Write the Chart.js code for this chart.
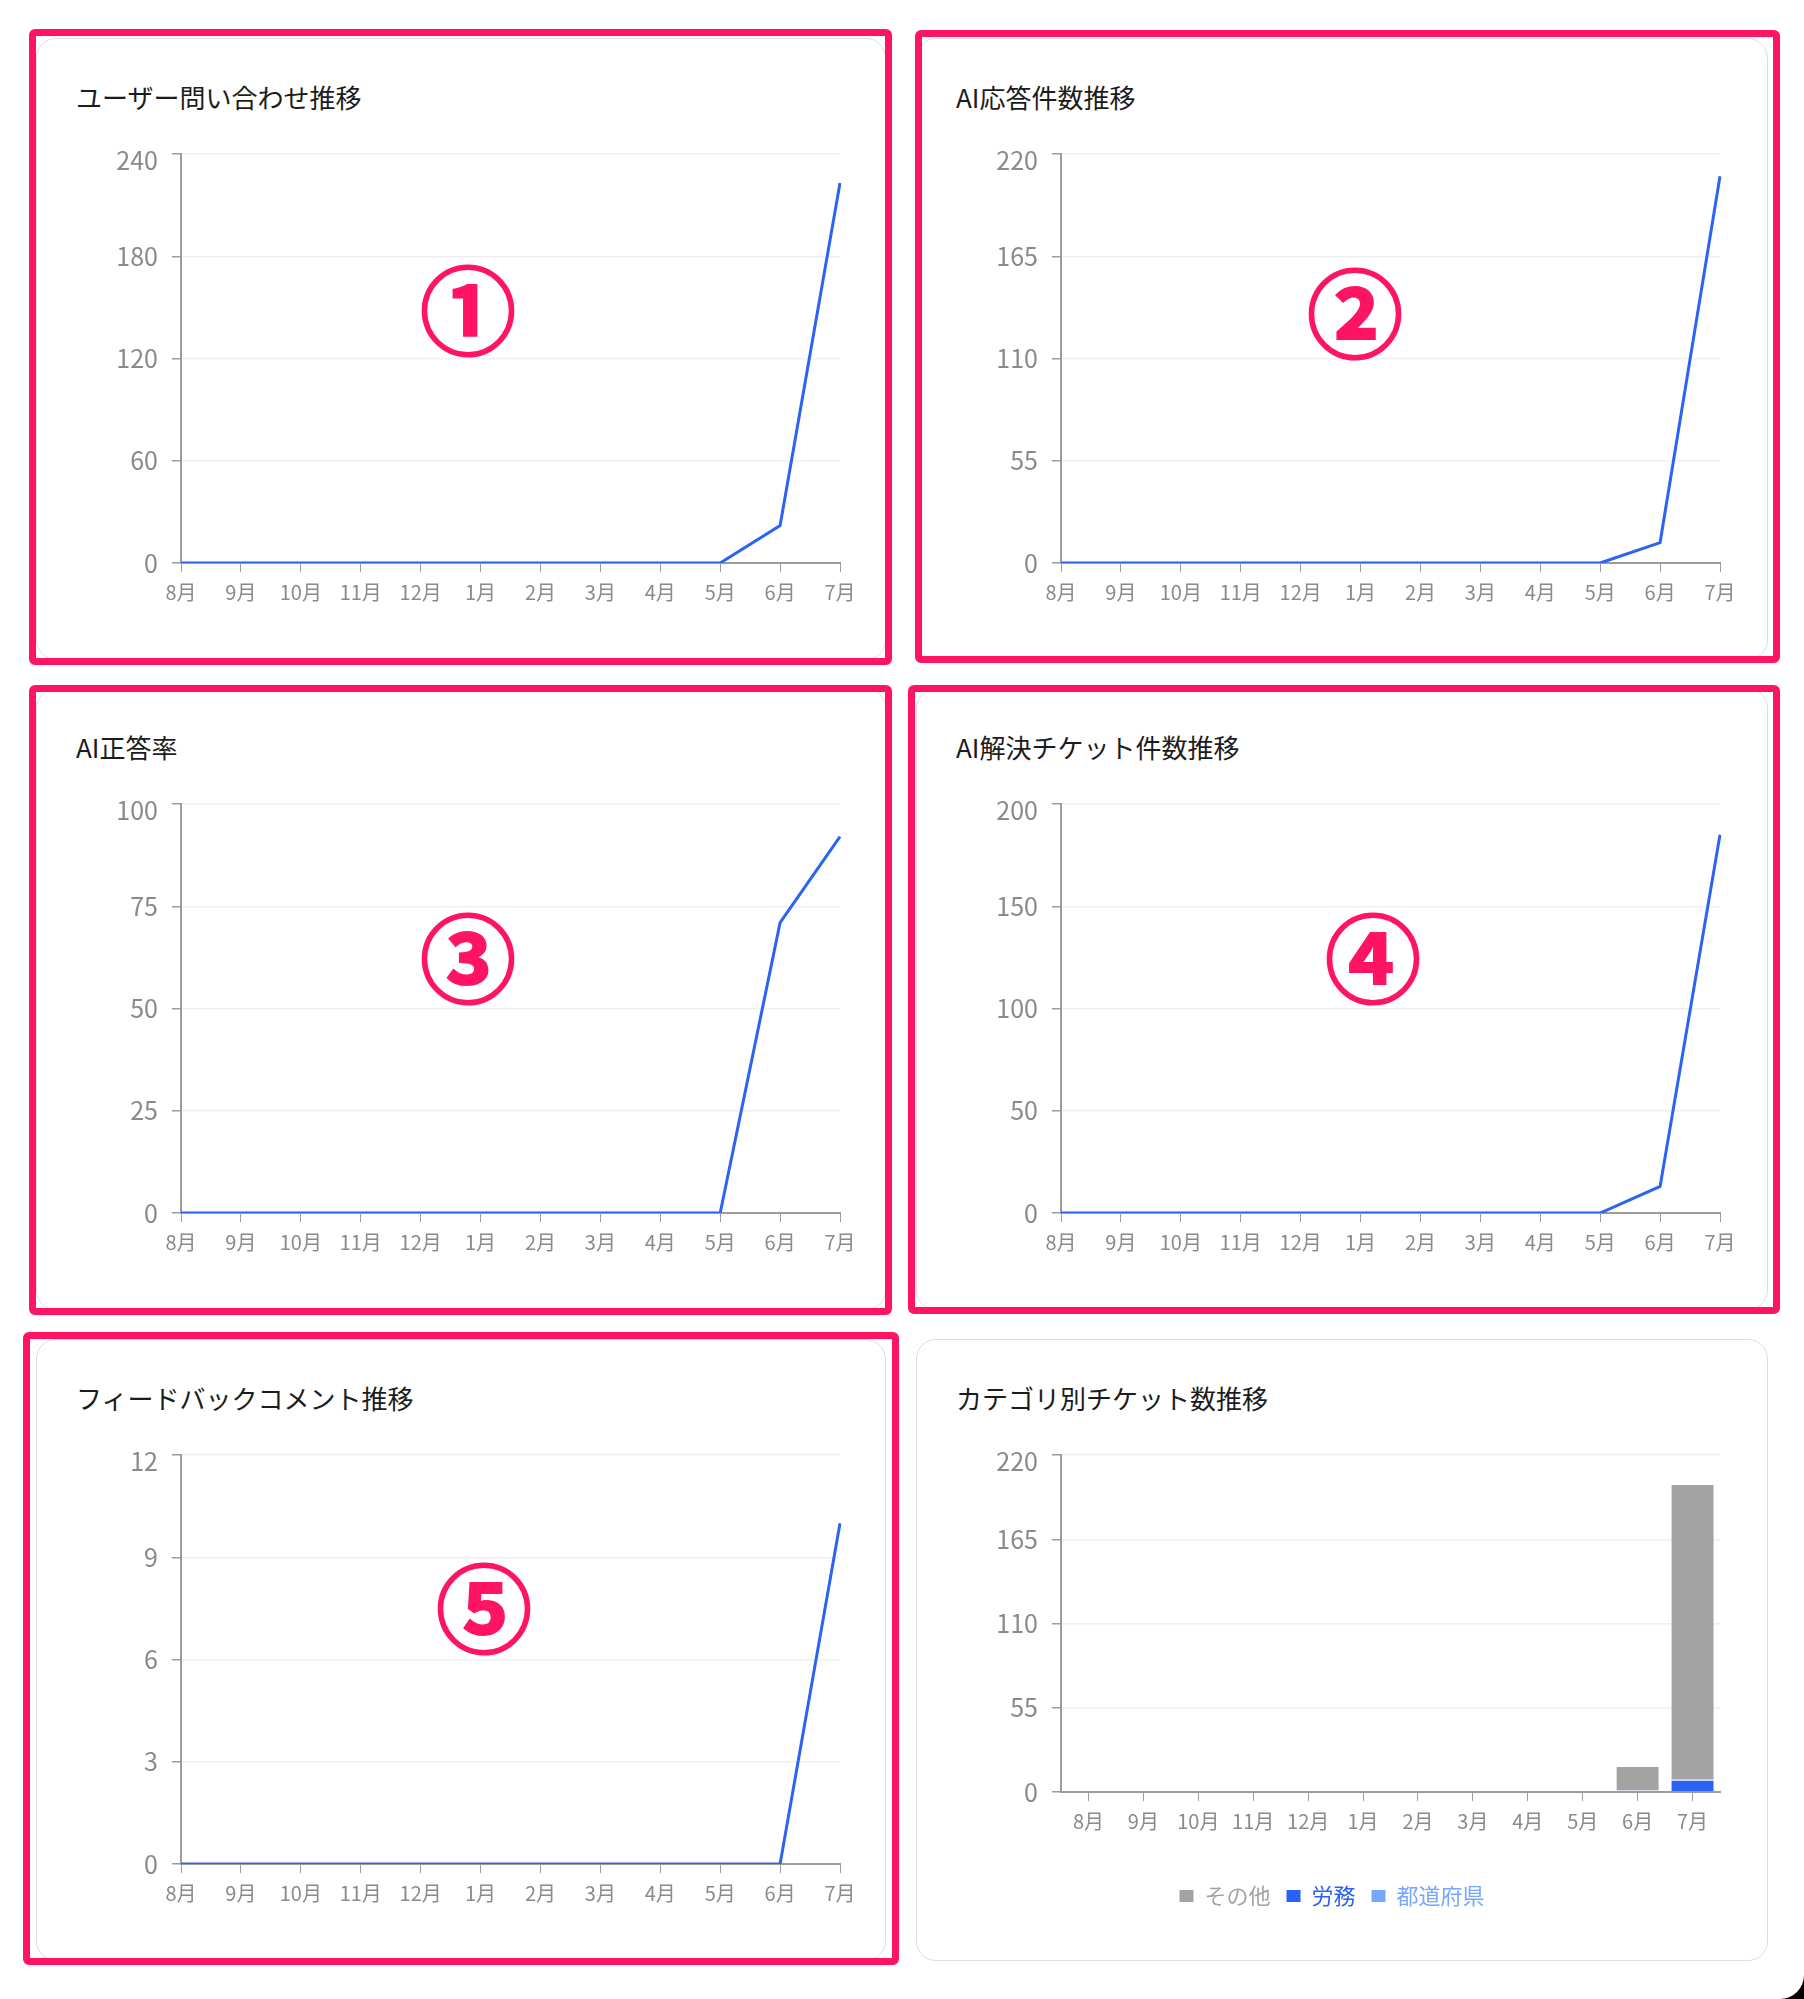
<!DOCTYPE html>
<html lang="ja">
<head>
<meta charset="utf-8">
<script src="https://cdn.jsdelivr.net/npm/chart.js@4.4.1/dist/chart.umd.min.js"></script>
<style>
  html, body { margin: 0; padding: 0; background: #000; }
  #page {
    position: relative;
    width: 1804px;
    height: 1999px;
    background: #fff;
    border-bottom-right-radius: 24px;
    overflow: hidden;
    font-family: "Noto Sans CJK JP", "Noto Sans", sans-serif;
  }
  .card {
    position: absolute;
    box-sizing: border-box;
    border: 1.5px solid #dedede;
    border-radius: 20px;
    background: #fff;
  }
  .card .title {
    position: absolute;
    left: 39px;
    top: 45px;
    font-size: 26px;
    line-height: 1;
    color: #1c1c1c;
    white-space: nowrap;
  }
  .card canvas { position: absolute; left: 27px; top: 86px; }
  .mark {
    position: absolute;
    box-sizing: border-box;
    border: 7px solid #ff1464;
    border-radius: 6px;
    pointer-events: none;
  }
  .num {
    position: absolute;
    transform: translate(-50%, -50%);
    font-size: 96px;
    font-weight: bold;
    line-height: 1;
    color: #ff1464;
    -webkit-text-stroke: 2px #ff1464;
  }
</style>
</head>
<body>
<div id="page">
  <div class="card" style="left:36px;top:38px;width:850px;height:622px;">
    <div class="title">ユーザー問い合わせ推移</div>
    <canvas id="chart1" width="802" height="488"></canvas>
  </div>
  <div class="card" style="left:916px;top:38px;width:852px;height:622px;">
    <div class="title">AI応答件数推移</div>
    <canvas id="chart2" width="802" height="488"></canvas>
  </div>
  <div class="card" style="left:36px;top:688px;width:850px;height:622px;">
    <div class="title">AI正答率</div>
    <canvas id="chart3" width="802" height="488"></canvas>
  </div>
  <div class="card" style="left:916px;top:688px;width:852px;height:622px;">
    <div class="title">AI解決チケット件数推移</div>
    <canvas id="chart4" width="802" height="488"></canvas>
  </div>
  <div class="card" style="left:36px;top:1339px;width:850px;height:622px;">
    <div class="title">フィードバックコメント推移</div>
    <canvas id="chart5" width="802" height="488"></canvas>
  </div>
  <div class="card" style="left:916px;top:1339px;width:852px;height:622px;">
    <div class="title">カテゴリ別チケット数推移</div>
    <canvas id="chart6" width="802" height="491"></canvas>
  </div>

  <div class="mark" style="left:29px;top:29px;width:863px;height:636px;"></div>
  <div class="mark" style="left:915px;top:30px;width:865px;height:633px;"></div>
  <div class="mark" style="left:29px;top:685px;width:863px;height:630px;"></div>
  <div class="mark" style="left:908px;top:685px;width:872px;height:629px;"></div>
  <div class="mark" style="left:23px;top:1332px;width:876px;height:633px;"></div>

  <div class="num" style="left:468px;top:306px;">①</div>
  <div class="num" style="left:1355px;top:309px;">②</div>
  <div class="num" style="left:468px;top:954px;">③</div>
  <div class="num" style="left:1373px;top:954px;">④</div>
  <div class="num" style="left:484px;top:1604px;">⑤</div>
</div>

<script>
const months = ['8月', '9月', '10月', '11月', '12月', '1月', '2月', '3月', '4月', '5月', '6月', '7月'];

// 月別の値
const inquiries   = [0, 0, 0, 0, 0, 0, 0, 0, 0, 0, 22, 223];
const aiResponses = [0, 0, 0, 0, 0, 0, 0, 0, 0, 0, 11, 208];
const aiAccuracy  = [0, 0, 0, 0, 0, 0, 0, 0, 0, 0, 71, 92];
const aiResolved  = [0, 0, 0, 0, 0, 0, 0, 0, 0, 0, 13, 185];
const feedback    = [0, 0, 0, 0, 0, 0, 0, 0, 0, 0, 0, 10];

// カテゴリ別
const catOther      = [0, 0, 0, 0, 0, 0, 0, 0, 0, 0, 16, 193];
const catLabor      = [0, 0, 0, 0, 0, 0, 0, 0, 0, 0, 0, 8];
const catPrefecture = [0, 0, 0, 0, 0, 0, 0, 0, 0, 0, 1, 0];

const LINE_BLUE = '#2b63f3';
const AXIS_GRAY = '#9c9c9c';
const TICK_GRAY = '#8a8a8a';
const GRID_GRAY = '#efefef';

Chart.defaults.font.family = '"Noto Sans CJK JP", "Noto Sans", sans-serif';
Chart.defaults.animation = false;

// 一番上の目盛りラベルが少し下がって見えるのに合わせる
const topLabelShift = {
    id: 'topLabelShift',
    afterLayout(chart) {
        const items = chart.scales.y.getLabelItems();
        const top = items[items.length - 1];
        top.options.translation = [top.options.translation[0], top.options.translation[1] + 6];
    }
};

function yScale(max, step) {
    return {
        min: 0,
        max: max,
        ticks: { stepSize: step, color: TICK_GRAY, font: { size: 25 }, padding: 14 },
        grid: { color: GRID_GRAY, lineWidth: 1.5, tickColor: AXIS_GRAY, tickLength: 9 },
        border: { color: AXIS_GRAY, width: 2 },
        afterFit: (scale) => { scale.width = 117; }
    };
}

function xScale(offset, height) {
    return {
        offset: offset,
        grid: { drawOnChartArea: false, tickColor: AXIS_GRAY, tickLength: 9, offset: false },
        border: { color: AXIS_GRAY, width: 2 },
        ticks: { color: TICK_GRAY, font: { size: 20 }, padding: 8, maxRotation: 0, autoSkip: false },
        afterFit: (scale) => { scale.height = height; }
    };
}

function drawLineChart(id, values, max, step) {
    const ctx = document.getElementById(id).getContext('2d');
    new Chart(ctx, {
        type: 'line',
        data: {
            labels: months,
            datasets: [{
                data: values,
                borderColor: LINE_BLUE,
                borderWidth: 3,
                pointRadius: 0,
                tension: 0,
                fill: false
            }]
        },
        options: {
            responsive: false,
            devicePixelRatio: 1,
            layout: { padding: { top: 26, right: 26, bottom: 0, left: 0 } },
            plugins: { legend: { display: false }, tooltip: { enabled: false } },
            scales: { x: xScale(false, 50), y: yScale(max, step) }
        },
        plugins: [topLabelShift]
    });
}

drawLineChart('chart1', inquiries, 240, 60);
drawLineChart('chart2', aiResponses, 220, 55);
drawLineChart('chart3', aiAccuracy, 100, 25);
drawLineChart('chart4', aiResolved, 200, 50);
drawLineChart('chart5', feedback, 12, 3);

// カテゴリ別（積み上げ棒）
new Chart(document.getElementById('chart6').getContext('2d'), {
    type: 'bar',
    data: {
        labels: months,
        datasets: [
            { label: '都道府県', data: catPrefecture, backgroundColor: '#78a6ff' },
            { label: '労務', data: catLabor, backgroundColor: '#2962f4' },
            { label: 'その他', data: catOther, backgroundColor: '#a3a3a3' }
        ]
    },
    options: {
        responsive: false,
        devicePixelRatio: 1,
        datasets: { bar: { barPercentage: 1, categoryPercentage: 0.8, borderWidth: 1, borderColor: 'rgba(255,255,255,0.7)' } },
        layout: { padding: { top: 26, right: 26, bottom: 0, left: 0 } },
        plugins: {
            tooltip: { enabled: false },
            legend: {
                position: 'bottom',
                reverse: true,
                labels: {
                    boxWidth: 14,
                    boxHeight: 12,
                    padding: 16,
                    font: { size: 22 },
                    generateLabels: (chart) => {
                        const items = Chart.defaults.plugins.legend.labels.generateLabels(chart);
                        return items.map(item => {
                            item.fontColor = item.fillStyle;
                            item.strokeStyle = item.fillStyle;
                            item.lineWidth = 0;
                            return item;
                        });
                    }
                }
            }
        },
        scales: {
            x: Object.assign(xScale(true, 77), { stacked: true }),
            y: Object.assign(yScale(220, 55), { stacked: true })
        }
    },
    plugins: [topLabelShift]
});
</script>
</body>
</html>
